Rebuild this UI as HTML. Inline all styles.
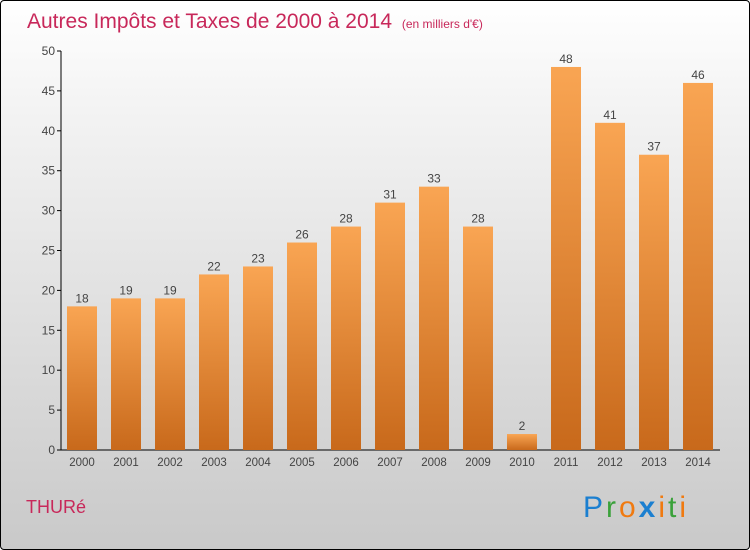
<!DOCTYPE html>
<html><head><meta charset="utf-8"><style>
body{margin:0;}
#c{position:relative;width:748px;height:548px;border:1px solid #000;border-radius:4px;background:linear-gradient(#fff,#f3f3f3 20%,#c9c9c9);overflow:hidden;font-family:"Liberation Sans",sans-serif;}
svg{position:absolute;left:-1px;top:-1px}
</style></head><body>
<div id="c">
<svg id="s" width="750" height="550">
<defs><linearGradient id="g" x1="0" y1="0" x2="0" y2="1"><stop offset="0" stop-color="#f9a553"/><stop offset="1" stop-color="#c8691b"/></linearGradient></defs>
<text x="27" y="28" font-size="21" fill="#c8285a">Autres Impôts et Taxes de 2000 à 2014 <tspan font-size="12" dx="4">(en milliers d'€)</tspan></text>
<text x="26" y="513" font-size="18" fill="#c8285a">THURé</text>
<g font-size="30" font-family="Liberation Sans, sans-serif">
<text x="583" y="517" textLength="103" lengthAdjust="spacing"><tspan fill="#1b7fd0">P</tspan><tspan fill="#3aa13a">r</tspan><tspan fill="#f07a10">o</tspan><tspan fill="#1b7fd0" font-weight="bold">x</tspan><tspan fill="#f07a10">i</tspan><tspan fill="#3aa13a">t</tspan><tspan fill="#f07a10">i</tspan></text></g>
<g id="ax"></g><g id="bars"></g>
</svg></div>
<script>
const years=["2000","2001","2002","2003","2004","2005","2006","2007","2008","2009","2010","2011","2012","2013","2014"];
const values=[18,19,19,22,23,26,28,31,33,28,2,48,41,37,46];
const yTicks=[0,5,10,15,20,25,30,35,40,45,50];
const NS="http://www.w3.org/2000/svg";
const y=v=>450-v*7.98, x=i=>82+i*44;
function mk(t,a,p){const e=document.createElementNS(NS,t);for(const k in a)e.setAttribute(k,a[k]);p.appendChild(e);return e;}
const ax=document.getElementById('ax'),bars=document.getElementById('bars');
let l=mk('line',{x1:61,y1:51,x2:61,y2:450,stroke:'#000'},ax);


l=mk('line',{x1:61,y1:450,x2:720,y2:450,stroke:'#000'},ax);


yTicks.forEach(v=>{
 mk('line',{x1:57,y1:y(v),x2:61,y2:y(v),stroke:'#000'},ax);
 const t=mk('text',{x:55,y:y(v)+4,'text-anchor':'end','font-size':12,fill:'#444'},ax);t.textContent=v;
 
 
});
values.forEach((v,i)=>{
 const r=mk('rect',{x:x(i)-15,y:y(v),width:30,height:450-y(v),fill:'url(#g)'},bars);
 
 
 const t=mk('text',{x:x(i),y:y(v)-4,'text-anchor':'middle','font-size':12,fill:'#444'},bars);t.textContent=v;
 
 
 const xl=mk('text',{x:x(i),y:466,'text-anchor':'middle','font-size':11.5,fill:'#444'},bars);xl.textContent=years[i];
 
 
});
</script>
</body></html>
